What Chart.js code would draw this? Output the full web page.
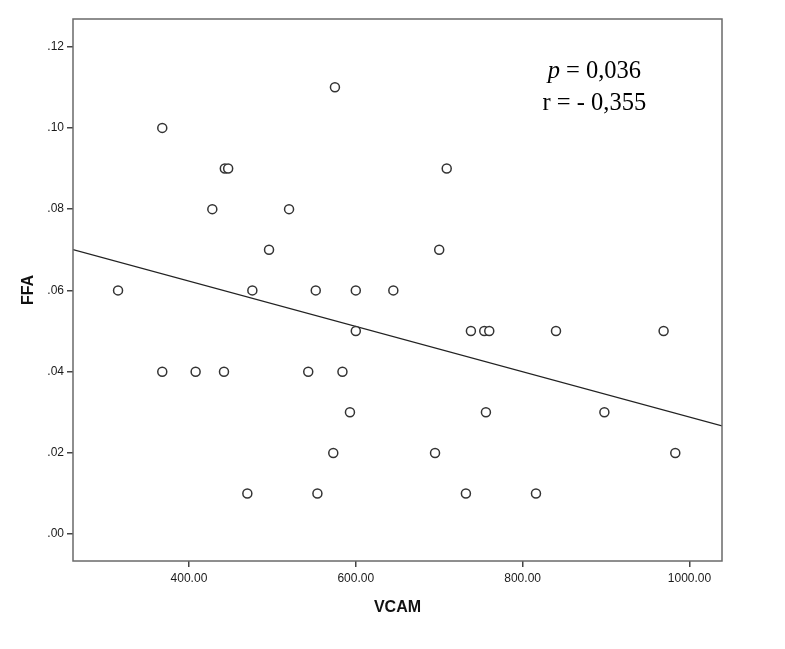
<!DOCTYPE html>
<html>
<head>
<meta charset="UTF-8">
<title>FFA vs VCAM</title>
<script src="https://cdn.jsdelivr.net/npm/chart.js@4.4.1/dist/chart.umd.min.js"></script>
<style>
  * { margin: 0; padding: 0; }
  body { background: #fff; }
  #wrap { width: 785px; height: 649px; }
</style>
</head>
<body>
<div id="wrap"><canvas id="c" width="785" height="649"></canvas></div>
<script>
// data
var vcam = [315, 368, 368, 408, 428, 443, 447, 442, 470, 476, 496, 520, 543, 552, 554,
            573, 575, 584, 593, 600, 600, 645, 695, 700, 709, 732, 738, 754, 756, 760,
            816, 840, 898, 969, 983];
var ffa  = [0.06, 0.10, 0.04, 0.04, 0.08, 0.09, 0.09, 0.04, 0.01, 0.06, 0.07, 0.08, 0.04, 0.06, 0.01,
            0.02, 0.11, 0.04, 0.03, 0.06, 0.05, 0.06, 0.02, 0.07, 0.09, 0.01, 0.05, 0.05, 0.03, 0.05,
            0.01, 0.05, 0.03, 0.05, 0.02];
var xTicks = [400, 600, 800, 1000];
var yTicks = [0, 0.02, 0.04, 0.06, 0.08, 0.10, 0.12];
var xRange = [261, 1039];
var yRange = [-0.0066, 0.1268];
var statLines = ['p = 0,036', 'r = - 0,355'];

// least squares fit line
var n = vcam.length, sx = 0, sy = 0, sxx = 0, sxy = 0;
for (var i = 0; i < n; i++) {
  sx += vcam[i]; sy += ffa[i];
  sxx += vcam[i] * vcam[i]; sxy += vcam[i] * ffa[i];
}
var slope = (n * sxy - sx * sy) / (n * sxx - sx * sx);
var icpt = (sy - slope * sx) / n;
var fitPts = xRange.map(function (x) { return { x: x, y: icpt + slope * x }; });
var pts = vcam.map(function (x, i) { return { x: x, y: ffa[i] }; });

var serif = '"Liberation Serif", "Times New Roman", serif';

var boxPlugin = {
  id: 'box',
  afterDatasetsDraw: function (chart) {
    var a = chart.chartArea, ctx = chart.ctx;
    ctx.save();
    ctx.strokeStyle = '#6a6a6a';
    ctx.lineWidth = 1.5;
    ctx.strokeRect(a.left, a.top, a.right - a.left, a.bottom - a.top);
    // stats text
    var xs = chart.scales.x, ys = chart.scales.y;
    var cx = xs.getPixelForValue(886);
    ctx.fillStyle = '#000';
    ctx.textBaseline = 'alphabetic';
    ctx.font = 'italic 24.5px ' + serif;
    var pw = ctx.measureText('p').width;
    ctx.font = '24.5px ' + serif;
    var rest = statLines[0].slice(1);
    var w1 = pw + ctx.measureText(rest).width;
    var y1 = ys.getPixelForValue(0.1123);
    ctx.font = 'italic 24.5px ' + serif;
    ctx.textAlign = 'left';
    ctx.fillText('p', cx - w1 / 2, y1);
    ctx.font = '24.5px ' + serif;
    ctx.fillText(rest, cx - w1 / 2 + pw, y1);
    ctx.textAlign = 'center';
    ctx.fillText(statLines[1], cx, ys.getPixelForValue(0.1044));
    ctx.restore();
  }
};

var tickFont = { family: '"Liberation Sans", Arial, sans-serif', size: 12 };
var titleFont = { family: '"Liberation Sans", Arial, sans-serif', size: 16, weight: 'bold' };

new Chart(document.getElementById('c'), {
  type: 'scatter',
  data: {
    datasets: [
      {
        data: pts,
        pointRadius: 4.5,
        pointHoverRadius: 4.5,
        pointBorderWidth: 1.5,
        pointBorderColor: '#333',
        pointBackgroundColor: '#fff'
      },
      {
        type: 'line',
        data: fitPts,
        showLine: true,
        borderColor: '#222',
        borderWidth: 1.2,
        pointRadius: 0,
        fill: false
      }
    ]
  },
  options: {
    responsive: false,
    animation: false,
    layout: { padding: { top: 19, right: 63, left: 0, bottom: 0 } },
    plugins: { legend: { display: false }, tooltip: { enabled: false } },
    scales: {
      x: {
        type: 'linear',
        min: xRange[0], max: xRange[1],
        afterBuildTicks: function (s) { s.ticks = xTicks.map(function (v) { return { value: v }; }); },
        afterFit: function (s) { s.height = 88; },
        grid: { drawOnChartArea: false, drawTicks: true, tickLength: 6, color: '#444', lineWidth: 1.5 },
        border: { display: false },
        ticks: {
          color: '#1a1a1a', font: tickFont, padding: 4, maxRotation: 0,
          callback: function (v) { return v.toFixed(2); }
        },
        title: { display: true, text: 'VCAM', color: '#111', font: titleFont, padding: { top: 32, bottom: 32 } }
      },
      y: {
        type: 'linear',
        min: yRange[0], max: yRange[1],
        afterBuildTicks: function (s) { s.ticks = yTicks.map(function (v) { return { value: v }; }); },
        afterFit: function (s) { s.width = 73; },
        grid: { drawOnChartArea: false, drawTicks: true, tickLength: 6, color: '#444', lineWidth: 1.5 },
        border: { display: false },
        ticks: {
          color: '#1a1a1a', font: tickFont, padding: 3,
          callback: function (v) { return v.toFixed(2).replace(/^0/, ''); }
        },
        title: { display: true, text: 'FFA', color: '#111', font: titleFont, padding: { top: 19, bottom: 19 } }
      }
    }
  },
  plugins: [boxPlugin]
});
</script>
</body>
</html>
